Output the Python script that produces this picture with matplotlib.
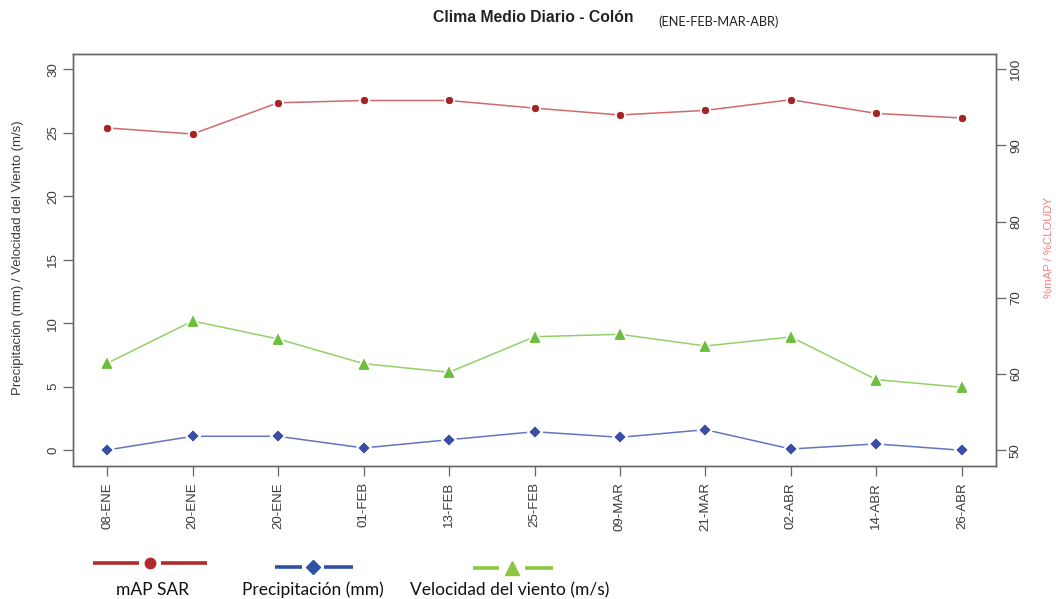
import matplotlib
matplotlib.use("Agg")
import matplotlib.pyplot as plt
from matplotlib.lines import Line2D

# Sampling dates (ENE-FEB-MAR-ABR)
fechas = ["08-ENE", "20-ENE", "20-ENE", "01-FEB", "13-FEB", "25-FEB",
          "09-MAR", "21-MAR", "02-ABR", "14-ABR", "26-ABR"]

# %mAP SAR (right axis)
map_sar = [92.3, 91.5, 95.6, 95.9, 95.9, 94.9, 94.0, 94.6, 96.0, 94.2, 93.6]
# Precipitation in mm (left axis)
precipitacion = [0.02, 1.10, 1.10, 0.18, 0.83, 1.46, 1.02, 1.62, 0.10, 0.50, 0.0]
# Wind speed in m/s (left axis)
viento = [6.85, 10.18, 8.76, 6.82, 6.14, 8.94, 9.13, 8.21, 8.92, 5.56, 4.96]

left_ticks = [0, 5, 10, 15, 20, 25, 30]
right_ticks = [50, 60, 70, 80, 90, 100]

W, H = 1056, 599
RED, RED_LINE = "#A82323", "#D06A6A"
BLUE, BLUE_LINE = "#3A4EA6", "#6474C0"
GREEN, GREEN_LINE = "#6CBF3B", "#94D06A"
TXT = "#3A3A3A"
BOX = "#666666"

plt.rcParams["font.family"] = ["Liberation Sans", "DejaVu Sans"]

fig = plt.figure(figsize=(W / 100, H / 100), dpi=100)
fig.patch.set_facecolor("white")

def fx(px):
    return px / W

def fy(py):
    return 1 - py / H

ax = fig.add_axes([fx(73), fy(465.5), fx(996) - fx(73), fy(54) - fy(465.5)])
ax2 = ax.twinx()

x = list(range(1, len(fechas) + 1))

def serie(axis, vals, marker, color, lcolor, ms):
    axis.plot(x, vals, color=lcolor, lw=1.1, zorder=2)
    axis.plot(x, vals, ls="none", marker=marker, ms=ms, mfc=color, mec="white",
              mew=1.6, zorder=3)
    axis.plot(x, vals, ls="none", marker=marker, ms=ms - 1.6, mfc=color,
              mec=color, mew=0.3, zorder=4)

serie(ax, viento, "^", GREEN, GREEN_LINE, 9.5)
serie(ax, precipitacion, "D", BLUE, BLUE_LINE, 7)
serie(ax2, map_sar, "o", RED, RED_LINE, 6.5)

ax.set_xlim(0.6, len(fechas) + 0.4)
ax.set_ylim(-1.2, 31.2)
ax2.set_ylim(48, 102)

ax.set_xticks(x)
ax.set_xticklabels(fechas, rotation=90, fontsize=9.5, color=TXT)
ax.set_yticks(left_ticks)
ax.set_yticklabels([str(t) for t in left_ticks], rotation=90, va="center",
                   fontsize=9.5, color=TXT)
ax2.set_yticks(right_ticks)
ax2.set_yticklabels([str(t) for t in right_ticks], rotation=90, va="center",
                    fontsize=9.5, color=TXT)

for a in (ax, ax2):
    a.tick_params(direction="out", length=7, width=0.9, color=BOX, pad=3)
    for s in a.spines.values():
        s.set_color(BOX)
        s.set_linewidth(1.0)
ax.tick_params(axis="x", pad=5)

# Axis titles
fig.text(fx(18), fy(258), "Precipitación (mm) / Velocidad del Viento (m/s)",
         rotation=90, ha="center", va="center", fontsize=9.5, color=TXT)
fig.text(fx(1049), fy(247), "%mAP / %CLOUDY", rotation=90, ha="center",
         va="center", fontsize=8.2, color="#F08080")

# Titles
fig.text(fx(533), fy(18), "Clima Medio Diario - Colón", ha="center", va="center",
         fontsize=11.3, fontweight="bold", color="#222222")
fig.text(fx(719), fy(22), "(ENE-FEB-MAR-ABR)", ha="center", va="center",
         fontsize=9.2, color="#222222", family=["Lato", "DejaVu Sans"])

# Bottom key: line segments, marker and label for each series
def clave(x0, x1, xm, y, color, marker, ms, gap, label, lx):
    for a, b in ((x0, xm - gap), (xm + gap, x1)):
        fig.add_artist(Line2D([fx(a), fx(b)], [fy(y), fy(y)], color=color, lw=2.6,
                              solid_capstyle="butt"))
    fig.add_artist(Line2D([fx(xm)], [fy(y)], marker=marker, ms=ms, color=color,
                          mec=color, ls="none"))
    fig.text(fx(lx), fy(590), label, ha="center", va="center", fontsize=12.5,
             color="#111111", family=["Lato", "DejaVu Sans"])

clave(93, 207, 150, 563, "#B02A2A", "o", 7.5, 11, "mAP SAR", 152)
clave(275, 353, 313, 567, "#3050A8", "D", 7, 11, "Precipitación (mm)", 313)
clave(473, 553, 512, 568, "#8DC63F", "^", 10, 13, "Velocidad del viento (m/s)", 510)

fig.savefig("out.png", dpi=100, facecolor="white")
